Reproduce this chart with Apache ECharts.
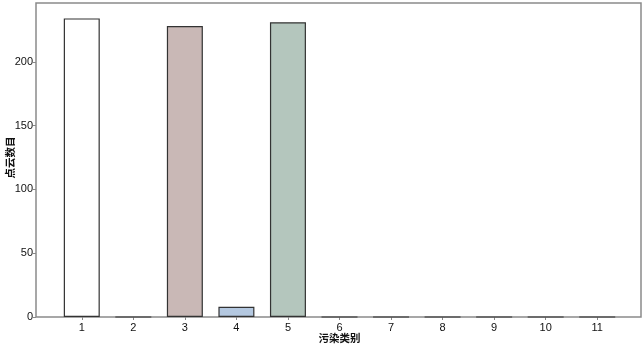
<!DOCTYPE html>
<html>
<head>
<meta charset="utf-8">
<script src="https://cdn.jsdelivr.net/npm/echarts@6/dist/echarts.min.js"></script>
<style>html,body{margin:0;padding:0;background:#fff}#c{width:643px;height:346px}</style>
</head>
<body>
<div id="c"></div>
<script>
var categories = ['1','2','3','4','5','6','7','8','9','10','11'];
var values = [234, 0, 228, 8, 231, 0, 0, 0, 0, 0, 0];
var barColors = ['#ffffff','#ffffff','#c9b8b6','#b4c8e0','#b4c6bd','#ffffff','#ffffff','#ffffff','#ffffff','#ffffff','#ffffff'];
var yMax = 250;

var font = 'Liberation Sans, Arial, sans-serif';
var cjk = '"Noto Sans CJK SC", sans-serif';
var chart = echarts.init(document.getElementById('c'), null, {renderer:'canvas'});
chart.setOption({
  animation: false,
  backgroundColor: '#ffffff',
  grid: [
    {left: 36, right: 2, top: 3, bottom: 29, show: true, borderColor: '#8a8a8a', borderWidth: 1.5, backgroundColor: 'transparent', outerBoundsMode: 'none', containLabel: false},
    {left: 56, right: 20, top: -2, bottom: 29, outerBoundsMode: 'none', containLabel: false}
  ],
  xAxis: [
    {gridIndex: 0, type: 'value', min: 0, max: 1, show: false},
    {gridIndex: 1, type: 'category', data: categories, boundaryGap: true,
     name: '污染类别', nameLocation: 'middle', nameGap: 16, nameMoveOverlap: false,
     nameTextStyle: {fontFamily: cjk, fontSize: 10.5, fontWeight: 'bold', color: '#111'},
     axisLine: {show: false},
     axisTick: {show: true, alignWithLabel: true, length: 3, lineStyle: {color: '#888'}},
     axisLabel: {fontFamily: font, fontSize: 11, color: '#111', margin: 5}
    }
  ],
  yAxis: [
    {gridIndex: 0, type: 'value', min: 0, max: 1, show: false},
    {gridIndex: 1, type: 'value', min: 0, max: yMax, interval: 50, offset: 20,
     name: '点云数目', nameLocation: 'middle', nameGap: 21, nameRotate: 90, nameMoveOverlap: false,
     nameTextStyle: {fontFamily: cjk, fontSize: 10.5, fontWeight: 'bold', color: '#111'},
     axisLine: {show: false},
     axisTick: {show: true, length: 3, lineStyle: {color: '#888'}},
     splitLine: {show: false},
     axisLabel: {fontFamily: font, fontSize: 11, color: '#111', margin: 3, showMaxLabel: false}
    }
  ],
  series: [{
    type: 'bar', xAxisIndex: 1, yAxisIndex: 1,
    barWidth: 36,
    data: values.map(function(v, i){ return {value: v, itemStyle: {color: barColors[i]}}; }),
    itemStyle: {borderColor: '#333', borderWidth: 1.2}
  }]
});
</script>
</body>
</html>
